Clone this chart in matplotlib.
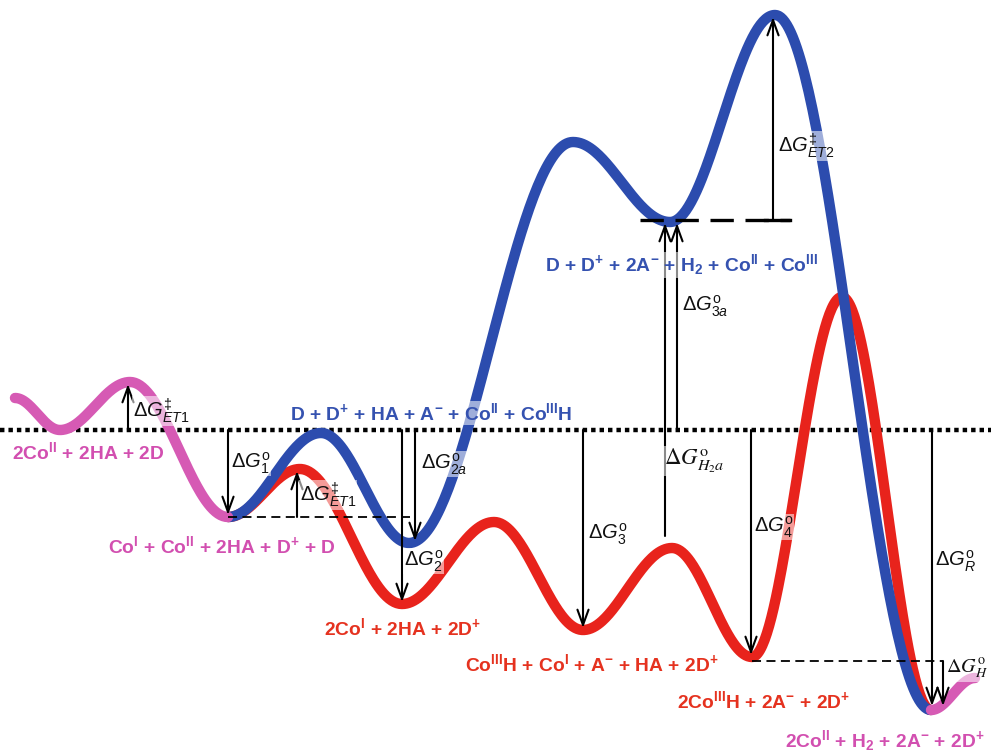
import numpy as np
import matplotlib
matplotlib.use("Agg")
import matplotlib.pyplot as plt

plt.rcParams['font.family'] = ['Liberation Sans', 'DejaVu Sans']
plt.rcParams['mathtext.fontset'] = 'custom'
plt.rcParams['mathtext.rm'] = 'Liberation Sans'
plt.rcParams['mathtext.it'] = 'Liberation Sans:italic'
plt.rcParams['mathtext.bf'] = 'Liberation Sans:bold'

# ---- data: stationary points of each pathway (reaction coordinate, level in px, down = lower energy)
magenta_x = [15, 60, 130, 228]
magenta_y = [398, 430, 382, 517]
magenta_end_x = [931, 975]
magenta_end_y = [710, 678]

red_x = [228, 300, 402, 494, 583, 672, 752, 842, 931]
red_y = [517, 469, 604, 522, 630, 548, 657, 297, 710]

blue_x = [228, 321, 409, 573, 670, 775, 931]
blue_y = [517, 433, 543, 142, 222, 15, 710]

ref_level = 430

# arrows: (x, y_from, y_to)
arrows = [
    (128, 430, 384), (228, 430, 515), (297, 517, 471), (402, 430, 602),
    (415, 430, 541), (583, 430, 628), (665, 536, 223), (677, 430, 223),
    (773, 220, 17), (751, 430, 655), (932, 430, 706), (943, 661, 706),
]

dg_labels = [
    (133, 411, r'$\Delta G^{‡}_{ET1}$', 'sans', 14.5),
    (231, 463, r'$\Delta G^{\mathrm{o}}_{1}$', 'sans', 14.5),
    (300, 495, r'$\Delta G^{‡}_{ET1}$', 'sans', 14.5),
    (421, 464, r'$\Delta G^{\mathrm{o}}_{2a}$', 'sans', 14.5),
    (404, 561, r'$\Delta G^{\mathrm{o}}_{2}$', 'sans', 14.5),
    (588, 534, r'$\Delta G^{\mathrm{o}}_{3}$', 'sans', 14.5),
    (682, 306, r'$\Delta G^{\mathrm{o}}_{3a}$', 'sans', 14.5),
    (664, 461, r'$\Delta G^{\mathrm{o}}_{H_2a}$', 'serif', 16.5),
    (778, 146, r'$\Delta G^{\ddagger}_{ET2}$', 'sans', 14.5),
    (754, 527, r'$\Delta G^{\mathrm{o}}_{4}$', 'sans', 14.5),
    (935, 561, r'$\Delta G^{\mathrm{o}}_{R}$', 'sans', 14.5),
    (946, 669, r'$\Delta G^{\mathrm{o}}_{H}$', 'serif', 14.5),
]

species = [
    (12, 452, r'2Co$^{\mathbf{II}}$ + 2HA + 2D', 'm'),
    (108, 546, r'Co$^{\mathbf{I}}$ + Co$^{\mathbf{II}}$ + 2HA + D$^{\mathbf{+}}$ + D', 'm'),
    (290, 413, r'D + D$^{\mathbf{+}}$ + HA + A$^{\mathbf{-}}$ + Co$^{\mathbf{II}}$ + Co$^{\mathbf{III}}$H', 'b'),
    (545, 265, r'D + D$^{\mathbf{+}}$ + 2A$^{\mathbf{-}}$ + H$_{\mathbf{2}}$ + Co$^{\mathbf{II}}$ + Co$^{\mathbf{III}}$', 'b'),
    (324, 628, r'2Co$^{\mathbf{I}}$ + 2HA + 2D$^{\mathbf{+}}$', 'r'),
    (465, 664, r'Co$^{\mathbf{III}}$H + Co$^{\mathbf{I}}$ + A$^{\mathbf{-}}$ + HA + 2D$^{\mathbf{+}}$', 'r'),
    (677, 701, r'2Co$^{\mathbf{III}}$H + 2A$^{\mathbf{-}}$ + 2D$^{\mathbf{+}}$', 'r'),
    (785, 741, r'2Co$^{\mathbf{II}}$ + H$_{\mathbf{2}}$ + 2A$^{\mathbf{-}}$ + 2D$^{\mathbf{+}}$', 'm'),
]

C_MAG = '#d65ab4'
C_RED = '#e8231c'
C_BLUE = '#2c4cae'
TXT = {'m': '#d24fb0', 'r': '#e5321f', 'b': '#3552b0'}


def smooth(xs, ys, n=80):
    X, Y = [], []
    for i in range(len(xs) - 1):
        t = np.linspace(0, 1, n)
        s = (1 - np.cos(np.pi * t)) / 2
        X.append(xs[i] + (xs[i + 1] - xs[i]) * t)
        Y.append(ys[i] + (ys[i + 1] - ys[i]) * s)
    return np.concatenate(X), np.concatenate(Y)


fig = plt.figure(figsize=(9.91, 7.53), dpi=100)
ax = fig.add_axes([0, 0, 1, 1])
ax.set_xlim(0, 991)
ax.set_ylim(753, 0)
ax.axis('off')

LW = 7.5
# reference dotted line
ax.plot([0, 991], [ref_level, ref_level], color='black', lw=3.2,
        linestyle=(0, (1.0, 0.9)), zorder=1)

x, y = smooth(red_x, red_y)
ax.plot(x, y, color=C_RED, lw=LW, solid_capstyle='round', zorder=2)
x, y = smooth(blue_x, blue_y)
ax.plot(x, y, color=C_BLUE, lw=LW, solid_capstyle='round', zorder=2.1)
x, y = smooth(magenta_x, magenta_y)
ax.plot(x, y, color=C_MAG, lw=LW, solid_capstyle='round', zorder=2.2)
x, y = smooth(magenta_end_x, magenta_end_y)
ax.plot(x, y, color=C_MAG, lw=LW, solid_capstyle='round', zorder=2.2)

# dashed guide lines
ax.plot([228, 410], [517, 517], color='black', lw=1.3, linestyle=(0, (5, 3)), zorder=3)
ax.plot([640, 790], [220, 220], color='black', lw=2.4, linestyle=(0, (7, 3.5)), zorder=3)
ax.plot([765, 790], [220, 220], color='black', lw=2.4, zorder=3)
ax.plot([752, 943], [661, 661], color='black', lw=1.3, linestyle=(0, (5, 3)), zorder=3)

for (xa, y0, y1) in arrows:
    ax.annotate('', xy=(xa, y1), xytext=(xa, y0),
                arrowprops=dict(arrowstyle='->,head_length=0.55,head_width=0.2',
                                lw=1.5, color='black', shrinkA=0, shrinkB=0,
                                mutation_scale=20), zorder=3)

for (xl, yl, s, fam, size) in dg_labels:
    kw = {}
    if fam == 'serif':
        kw['math_fontfamily'] = 'stix'
    ax.text(xl, yl, s, fontsize=size, color='#111111', ha='left', va='center',
            zorder=4, bbox=dict(fc='white', ec='none', alpha=0.55, pad=0.5), **kw)

for (xl, yl, s, c) in species:
    ax.text(xl, yl, s, fontsize=13.9, fontweight='bold', color=TXT[c], ha='left',
            va='center', zorder=4,
            bbox=dict(fc='white', ec='none', alpha=0.55, pad=0.5))

fig.savefig('out.png', dpi=100)
